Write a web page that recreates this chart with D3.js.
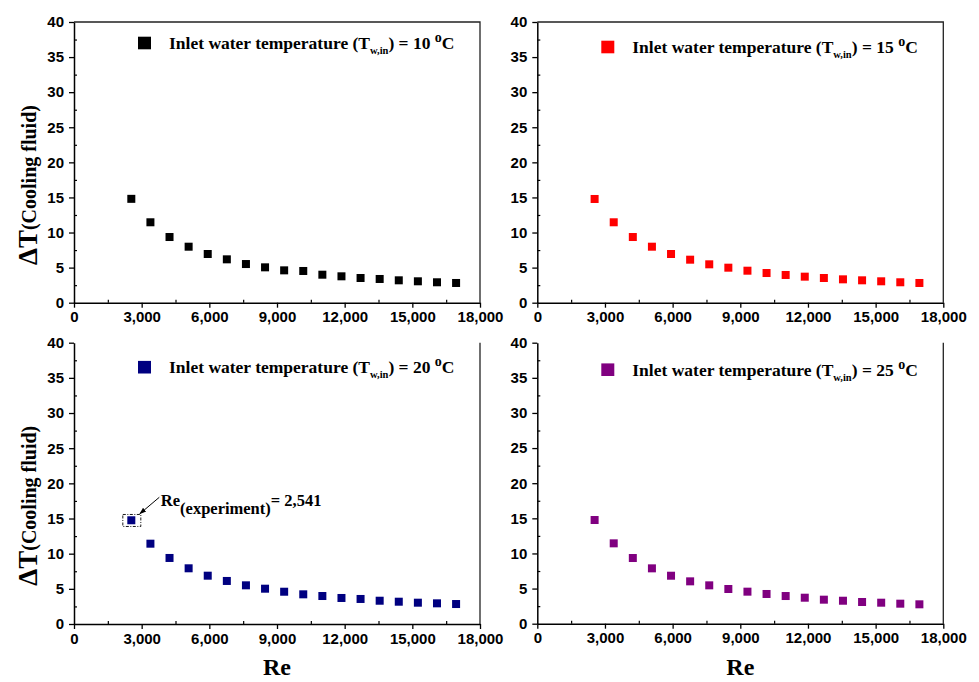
<!DOCTYPE html>
<html>
<head>
<meta charset="utf-8">
<script src="https://cdn.jsdelivr.net/npm/d3@7"></script>
<style>
  body { margin: 0; background: #fff; }
  svg { display: block; }
  .tick text { font-family: "Liberation Sans", Arial, sans-serif; font-weight: bold; font-size: 15px; fill: #000; }
  .serif { font-family: "Liberation Serif", "Times New Roman", serif; font-weight: bold; fill: #000; }
</style>
</head>
<body>
<svg width="979" height="682"></svg>
<script>
// Reynolds numbers (shared by all four panels)
const reynolds = [2541, 3388, 4235, 5082, 5929, 6776, 7623, 8470, 9317, 10164,
                  11011, 11858, 12705, 13552, 14399, 15246, 16093, 16940];

// ΔT of cooling fluid for each inlet water temperature
const dT10 = [14.8, 11.46, 9.36, 7.98, 6.94, 6.18, 5.51, 5.04, 4.61, 4.52, 3.99, 3.76, 3.52, 3.38, 3.19, 3.05, 2.91, 2.81];
const dT15 = [14.78, 11.46, 9.36, 7.98, 6.94, 6.13, 5.47, 4.99, 4.56, 4.23, 3.95, 3.71, 3.52, 3.33, 3.19, 3.05, 2.91, 2.81];
const dT20 = [14.75, 11.42, 9.39, 7.92, 6.87, 6.12, 5.5, 5.02, 4.59, 4.22, 3.98, 3.7, 3.56, 3.31, 3.17, 3.03, 2.94, 2.84];
const dT25 = [14.76, 11.44, 9.35, 7.88, 6.83, 6.03, 5.46, 4.94, 4.56, 4.23, 3.94, 3.7, 3.42, 3.27, 3.09, 2.99, 2.85, 2.76];

const temps = ["10", "15", "20", "25"];
const xTicks = [0, 3000, 6000, 9000, 12000, 15000, 18000];
const yTicks = [0, 5, 10, 15, 20, 25, 30, 35, 40];

const svg = d3.select("svg");

// panel boxes
const panels = [
    { data: dT10, temp: temps[0], color: "#000000", left: 74, right: 480, top: 22, bottom: 302.7, frameTop: true, yLabel: true, xLabel: false, legendDy: 21 },
    { data: dT15, temp: temps[1], color: "#ff0000", left: 537.3, right: 943.3, top: 22, bottom: 302.7, frameTop: true, yLabel: false, xLabel: false, legendDy: 25 },
    { data: dT20, temp: temps[2], color: "#000080", left: 74, right: 480, top: 342.7, bottom: 624, frameTop: false, yLabel: true, xLabel: true, legendDy: 24.5, note: true },
    { data: dT25, temp: temps[3], color: "#800080", left: 537.3, right: 943.3, top: 342.7, bottom: 623.7, frameTop: false, yLabel: false, xLabel: true, legendDy: 27 }
];

svg.append("defs").append("marker")
    .attr("id", "arrow").attr("viewBox", "0 0 10 10")
    .attr("refX", 9).attr("refY", 5)
    .attr("markerWidth", 7).attr("markerHeight", 7)
    .attr("orient", "auto")
    .append("path").attr("d", "M0,1.5L10,5L0,8.5Z").attr("fill", "#000");

panels.forEach(function (p) {
    const x = d3.scaleLinear().domain([0, 18000]).range([p.left, p.right]);
    const y = d3.scaleLinear().domain([0, 40]).range([p.bottom, p.top]);
    const g = svg.append("g");

    // frame (right, and top for the upper row)
    if (p.frameTop) {
        g.append("path")
            .attr("d", "M" + p.left + "," + p.top + "H" + p.right + "V" + p.bottom)
            .attr("fill", "none").attr("stroke", "#222").attr("stroke-width", 1.3);
    } else {
        g.append("line")
            .attr("x1", p.right).attr("x2", p.right).attr("y1", p.top).attr("y2", p.bottom)
            .attr("stroke", "#222").attr("stroke-width", 1.3);
    }

    // minor ticks (inward)
    g.append("g")
        .attr("transform", "translate(0," + p.bottom + ")")
        .call(d3.axisBottom(x).tickValues(d3.range(1500, 18000, 3000)).tickSize(-3).tickFormat(""))
        .call(s => s.select(".domain").remove())
        .selectAll("line").attr("stroke", "#000").attr("stroke-width", 1.2);
    g.append("g")
        .attr("transform", "translate(" + p.left + ",0)")
        .call(d3.axisLeft(y).tickValues(d3.range(2.5, 40, 5)).tickSize(-3).tickFormat(""))
        .call(s => s.select(".domain").remove())
        .selectAll("line").attr("stroke", "#000").attr("stroke-width", 1.2);

    // major axes
    const xAxis = g.append("g")
        .attr("transform", "translate(0," + p.bottom + ")")
        .call(d3.axisBottom(x).tickValues(xTicks).tickFormat(d3.format(",")).tickSize(5).tickSizeOuter(0).tickPadding(4));
    const yAxis = g.append("g")
        .attr("transform", "translate(" + p.left + ",0)")
        .call(d3.axisLeft(y).tickValues(yTicks).tickSize(5).tickSizeOuter(0).tickPadding(5));
    [xAxis, yAxis].forEach(function (a) {
        a.select(".domain").attr("stroke", "#000").attr("stroke-width", 1.5);
        a.selectAll(".tick line").attr("stroke", "#000").attr("stroke-width", 1.3);
    });

    // data points
    g.selectAll(".pt")
        .data(p.data.map((v, i) => [reynolds[i], v]))
        .enter()
        .append("rect")
        .attr("class", "pt")
        .attr("x", d => x(d[0]) - 4)
        .attr("y", d => y(d[1]) - 4)
        .attr("width", 8)
        .attr("height", 8)
        .attr("fill", p.color);

    // legend
    const ly = p.top + p.legendDy;
    g.append("rect")
        .attr("x", p.left + 64).attr("y", ly - 6.3)
        .attr("width", 13).attr("height", 12.6)
        .attr("fill", p.color);
    const lt = g.append("text")
        .attr("class", "serif")
        .attr("x", p.left + 95).attr("y", ly + 6)
        .attr("font-size", 17.5);
    lt.append("tspan").text("Inlet water temperature (T");
    lt.append("tspan").attr("font-size", 10.5).attr("dy", 5).text("w,in");
    lt.append("tspan").attr("dy", -5).text(") = " + p.temp + " ");
    lt.append("tspan").attr("font-size", 14).attr("dy", -7).text("o");
    lt.append("tspan").attr("dy", 7).text("C");

    // y label
    if (p.yLabel) {
        const t = g.append("text")
            .attr("class", "serif")
            .attr("transform", "translate(37," + (p.top + 243) + ") rotate(-90)")
            .attr("font-size", 27);
        t.append("tspan").text("ΔT");
        t.append("tspan").attr("font-size", 20).attr("dy", -1).text("(Cooling fluid)");
    }

    // x label
    if (p.xLabel) {
        g.append("text")
            .attr("class", "serif")
            .attr("x", (p.left + p.right) / 2).attr("y", 675)
            .attr("text-anchor", "middle")
            .attr("font-size", 24)
            .text("Re");
    }

    // experimental point annotation
    if (p.note) {
        const px = x(reynolds[0]);
        const py = y(p.data[0]);
        g.append("rect")
            .attr("x", px - 8.5).attr("y", py - 5.8)
            .attr("width", 18).attr("height", 12)
            .attr("fill", "none").attr("stroke", "#000").attr("stroke-width", 0.9)
            .attr("stroke-dasharray", "3,1.5,1,1.5");
        g.append("line")
            .attr("x1", px + 28).attr("y1", py - 23)
            .attr("x2", px + 8.5).attr("y2", py - 6.5)
            .attr("stroke", "#000").attr("stroke-width", 1)
            .attr("marker-end", "url(#arrow)");
        const nt = g.append("text")
            .attr("class", "serif")
            .attr("x", px + 29.5).attr("y", py - 14.5)
            .attr("font-size", 16.5);
        nt.append("tspan").text("Re");
        nt.append("tspan").attr("dy", 8).text("(experiment)");
        nt.append("tspan").attr("dy", -8).text("= 2,541");
    }
});
</script>
</body>
</html>
